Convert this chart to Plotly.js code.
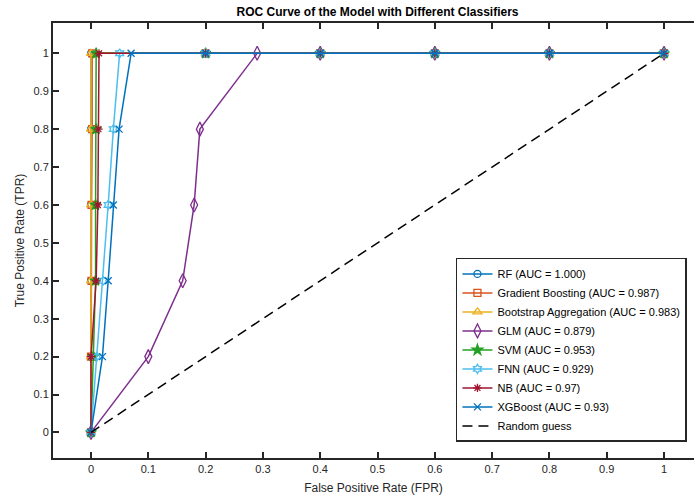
<!DOCTYPE html>
<html>
<head>
<meta charset="utf-8">
<script src="https://cdn.plot.ly/plotly-3.0.1.min.js"></script>
<style>html,body{margin:0;padding:0;background:#fff;}#chart{width:694px;height:499px;}</style>
</head>
<body>
<div id="chart"></div>
<script>
// ROC points (FPR, TPR) per classifier
const tprSteps = [0, 0.2, 0.4, 0.6, 0.8, 1, 1, 1, 1, 1, 1];
const fprRF   = [0, 0, 0, 0, 0, 0, 0.2, 0.4, 0.6, 0.8, 1];
const fprGB   = [0, 0, 0.001, 0.001, 0.002, 0.002, 0.2, 0.4, 0.6, 0.8, 1];
const fprBag  = [0, 0, 0, 0, 0, 0, 0.2, 0.4, 0.6, 0.8, 1];
const fprGLM  = [0, 0.1, 0.16, 0.18, 0.19, 0.29, 0.4, 0.6, 0.8, 1];
const tprGLM  = [0, 0.2, 0.4, 0.6, 0.8, 1, 1, 1, 1, 1];
const fprSVM  = [0, 0.004, 0.008, 0.008, 0.009, 0.009, 0.2, 0.4, 0.6, 0.8, 1];
const fprFNN  = [0, 0.01, 0.021, 0.03, 0.039, 0.05, 0.2, 0.4, 0.6, 0.8, 1];
const fprNB   = [0, 0, 0.009, 0.012, 0.013, 0.014, 0.2, 0.4, 0.6, 0.8, 1];
const fprXGB  = [0, 0.02, 0.03, 0.039, 0.049, 0.07, 0.2, 0.4, 0.6, 0.8, 1];
const randX   = [0, 1];
const randY   = [0, 1];
const tickVals = [0, 0.1, 0.2, 0.3, 0.4, 0.5, 0.6, 0.7, 0.8, 0.9, 1];

const names = [
  'RF (AUC = 1.000)',
  'Gradient Boosting (AUC = 0.987)',
  'Bootstrap Aggregation (AUC = 0.983)',
  'GLM (AUC = 0.879)',
  'SVM (AUC = 0.953)',
  'FNN (AUC = 0.929)',
  'NB (AUC = 0.97)',
  'XGBoost (AUC = 0.93)',
  'Random guess'
];

function series(x, y, name, color, symbol, size) {
  return {
    type: 'scatter', mode: 'lines+markers', x: x, y: y, name: name,
    line: {color: color, width: 1.5},
    marker: {symbol: symbol, size: size || 7, color: color, line: {color: color, width: 1.3}}
  };
}

const data = [
  series(fprRF, tprSteps, names[0], '#0072BD', 'circle-open'),
  series(fprGB, tprSteps, names[1], '#D95319', 'square-open'),
  series(fprBag, tprSteps, names[2], '#EDB120', 'triangle-up-open', 8),
  series(fprGLM, tprGLM, names[3], '#7E2F8E', 'diamond-tall-open', 10),
  series(fprSVM, tprSteps, names[4], '#22A022', 'star', 8),
  series(fprFNN, tprSteps, names[5], '#4DBEEE', 'hexagram-open'),
  series(fprNB, tprSteps, names[6], '#A2142F', 'asterisk-open'),
  series(fprXGB, tprSteps, names[7], '#0072BD', 'x-thin-open'),
  {type: 'scatter', mode: 'lines', x: randX, y: randY, name: names[8],
   line: {color: '#000000', width: 1.5, dash: '10px,6px'}}
];

const axCol = '#262626';
const layout = {
  width: 694, height: 499,
  paper_bgcolor: '#ffffff', plot_bgcolor: '#ffffff',
  margin: {l: 53, r: 0, t: 23, b: 41, pad: 0},
  font: {family: 'Liberation Sans, Arial, sans-serif', size: 11, color: axCol},
  title: {
    text: '<b>ROC Curve of the Model with Different Classifiers</b>',
    font: {size: 12, color: '#000000'},
    x: 0.544, xref: 'container', xanchor: 'center',
    y: 0.976, yref: 'container', yanchor: 'middle'
  },
  xaxis: {
    range: [-0.0663, 1.0523], tickvals: tickVals, ticktext: tickVals.map(String),
    ticks: 'inside', ticklen: 6, tickwidth: 2, tickcolor: axCol,
    showline: true, linewidth: 2, linecolor: axCol, mirror: 'ticks',
    showgrid: false, zeroline: false,
    tickfont: {size: 11, color: axCol},
    title: {text: 'False Positive Rate (FPR)', font: {size: 12, color: axCol}, standoff: 9}
  },
  yaxis: {
    range: [-0.0675, 1.08], tickvals: tickVals, ticktext: tickVals.map(String),
    ticks: 'inside', ticklen: 6, tickwidth: 2, tickcolor: axCol,
    showline: true, linewidth: 2, linecolor: axCol, mirror: false,
    showgrid: false, zeroline: false,
    tickfont: {size: 11, color: axCol},
    title: {text: 'True Positive Rate (TPR)', font: {size: 12, color: axCol}, standoff: 6}
  },
  legend: {
    x: 0.989, y: 0.037, xanchor: 'right', yanchor: 'bottom',
    bgcolor: '#ffffff', bordercolor: axCol, borderwidth: 1.5,
    font: {size: 11, color: '#000000'}, itemwidth: 30, tracegroupgap: 0
  },
  showlegend: true
};

Plotly.newPlot('chart', data, layout, {displayModeBar: false, staticPlot: true});
</script>
</body>
</html>
